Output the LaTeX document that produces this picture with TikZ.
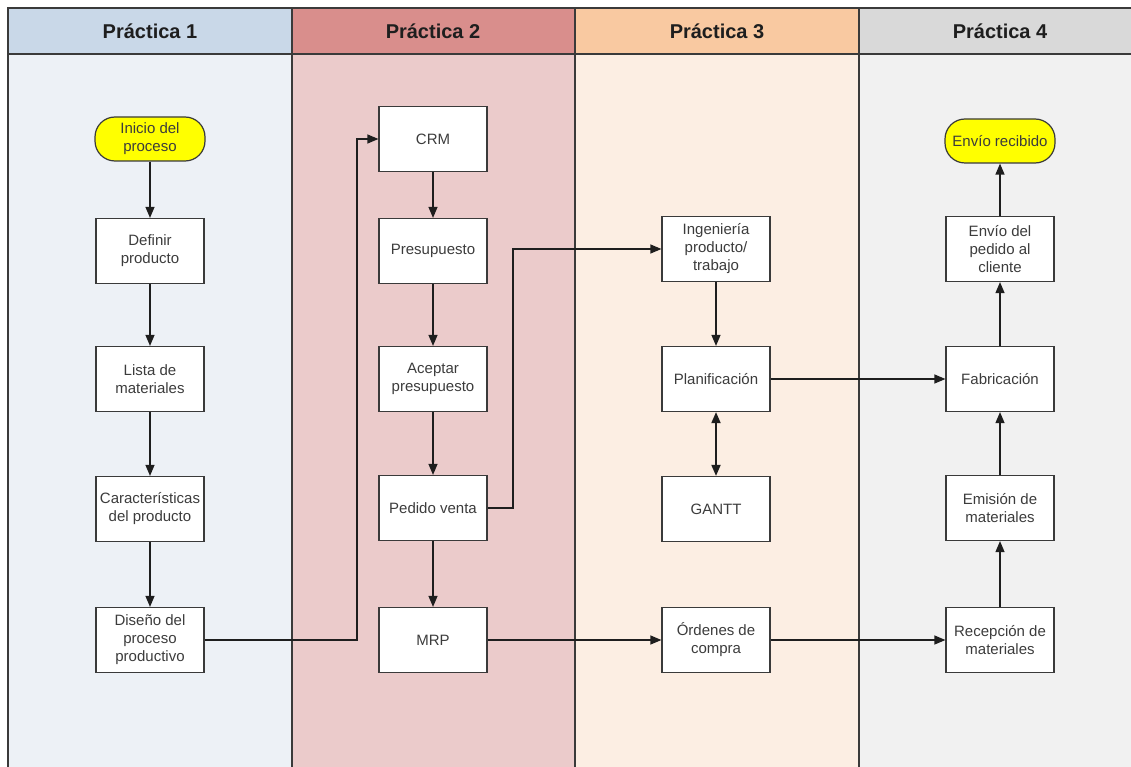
\documentclass[tikz,border=0pt]{standalone}
\usepackage{fontspec}
\setmainfont{Liberation Sans}
\usetikzlibrary{arrows.meta}
\definecolor{hdA}{HTML}{C9D8E8}
\definecolor{hdB}{HTML}{D98E8C}
\definecolor{hdC}{HTML}{F9C9A1}
\definecolor{hdD}{HTML}{D9D9D9}
\definecolor{bgA}{HTML}{EDF1F6}
\definecolor{bgB}{HTML}{EBCBCB}
\definecolor{bgC}{HTML}{FCEEE3}
\definecolor{bgD}{HTML}{F1F1F1}
\definecolor{ink}{HTML}{1E1E1E}
\definecolor{txt}{HTML}{3C3C3C}
\definecolor{frame}{HTML}{3A3A3A}
\definecolor{term}{HTML}{FFFF00}
\tikzset{
  lanebox/.style={draw=frame, line width=1.3pt},
  hdtext/.style={font=\fontsize{20}{24}\selectfont\bfseries, text=ink},
  stepbox/.style={draw=frame, fill=white, line width=1.2pt, minimum width=108pt,
    minimum height=65pt, inner sep=0pt, align=center, text=txt,
    font=\fontsize{15}{18}\selectfont},
  termbox/.style={draw=frame, fill=term, line width=1.2pt, rounded corners=20pt,
    minimum width=110pt, minimum height=44pt, inner sep=0pt, align=center, text=txt,
    font=\fontsize{15}{18}\selectfont},
  arr/.style={draw=ink, line width=1.2pt, -{Triangle[length=11pt,width=9pt]}},
  dblarr/.style={draw=ink, line width=1.8pt, {Triangle[length=11pt,width=9pt]}-{Triangle[length=11pt,width=9pt]}},
}
\begin{document}
\begin{tikzpicture}[x=1pt,y=-1pt]
\useasboundingbox (0,0) rectangle (1131,767);
% lane bodies
\fill[bgA] (8,54) rectangle (292,767);
\fill[bgB] (292,54) rectangle (575,767);
\fill[bgC] (575,54) rectangle (859,767);
\fill[bgD] (859,54) rectangle (1131,767);
% lane headers
\fill[hdA] (8,8) rectangle (292,54);
\fill[hdB] (292,8) rectangle (575,54);
\fill[hdC] (575,8) rectangle (859,54);
\fill[hdD] (859,8) rectangle (1131,54);
\draw[lanebox] (1131,8) -- (8,8) -- (8,767);
\draw[lanebox] (8,54) -- (1131,54);
\draw[lanebox] (292,8) -- (292,767);
\draw[lanebox] (575,8) -- (575,767);
\draw[lanebox] (859,8) -- (859,767);
\node[hdtext] (h1) at (150,31) {Práctica 1};
\node[hdtext] (h2) at (433,31) {Práctica 2};
\node[hdtext] (h3) at (717,31) {Práctica 3};
\node[hdtext] (h4) at (1000,31) {Práctica 4};

% Práctica 1
\node[termbox] (ini) at (150,139) {Inicio del\\proceso};
\node[stepbox] (def) at (150,251) {Definir\\producto};
\node[stepbox] (lis) at (150,379) {Lista de\\materiales};
\node[stepbox] (car) at (150,509) {Características\\del producto};
\node[stepbox] (dis) at (150,640) {Diseño del\\proceso\\productivo};

% Práctica 2
\node[stepbox] (crm) at (433,139) {CRM};
\node[stepbox] (pre) at (433,251) {Presupuesto};
\node[stepbox] (ace) at (433,379) {Aceptar\\presupuesto};
\node[stepbox] (ped) at (433,508) {Pedido venta};
\node[stepbox] (mrp) at (433,640) {MRP};

% Práctica 3
\node[stepbox] (ing) at (716,249) {Ingeniería\\producto/\\trabajo};
\node[stepbox] (pla) at (716,379) {Planificación};
\node[stepbox] (gan) at (716,509) {GANTT};
\node[stepbox] (ord) at (716,640) {Órdenes de\\compra};

% Práctica 4
\node[termbox] (rec) at (1000,141) {Envío recibido};
\node[stepbox] (env) at (1000,249) {Envío del\\pedido al\\cliente};
\node[stepbox] (fab) at (1000,379) {Fabricación};
\node[stepbox] (emi) at (1000,508) {Emisión de\\materiales};
\node[stepbox] (rcp) at (1000,640) {Recepción de\\materiales};

% bends of the routed connectors
\coordinate (j1) at (357,640);
\coordinate (j2) at (513,508);

% connectors
\draw[arr] (ini) -- (def);
\draw[arr] (def) -- (lis);
\draw[arr] (lis) -- (car);
\draw[arr] (car) -- (dis);
\draw[arr] (dis.east) -- (j1) |- (crm.west);
\draw[arr] (crm) -- (pre);
\draw[arr] (pre) -- (ace);
\draw[arr] (ace) -- (ped);
\draw[arr] (ped) -- (mrp);
\draw[arr] (ped.east) -- (j2) |- (ing.west);
\draw[arr] (ing) -- (pla);
\draw[dblarr] (pla) -- (gan);
\draw[arr] (pla) -- (fab);
\draw[arr] (mrp) -- (ord);
\draw[arr] (ord) -- (rcp);
\draw[arr] (rcp) -- (emi);
\draw[arr] (emi) -- (fab);
\draw[arr] (fab) -- (env);
\draw[arr] (env) -- (rec);
\end{tikzpicture}
\end{document}
